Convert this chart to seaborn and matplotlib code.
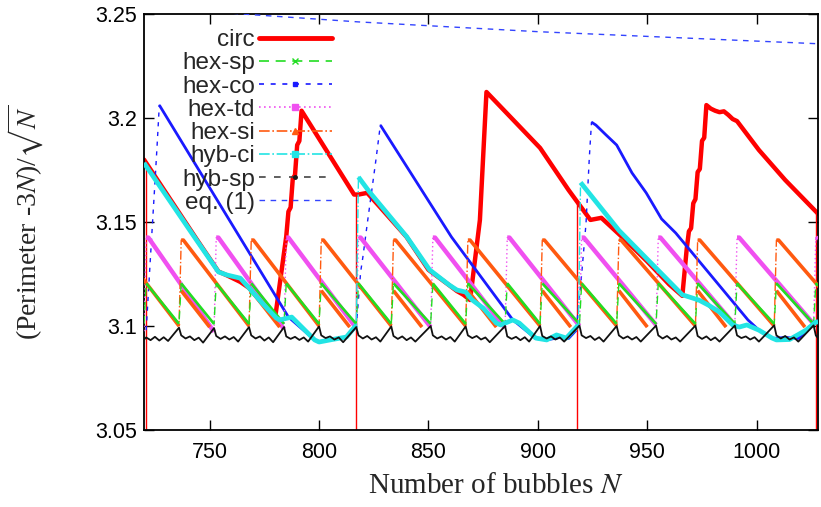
import numpy as np
import pandas as pd
import matplotlib
matplotlib.use("Agg")
import matplotlib.pyplot as plt
from matplotlib.lines import Line2D
from matplotlib.ticker import FuncFormatter
import seaborn as sns

nan = np.nan

# ---- values: vertices (N, value) of every curve ----
circ_N = [720, 744, 754, 758, 764, 768, 774, 780, 785, 786, 787, 788, 789, 790, 791, 792,
          816, 818, 822, 828, 840, 850, 860, 863, 866, 869, 873.5, 876.5,
          901, 914, 924, 929, 940, 950, 960, 966, 968, 969, 970, 971, 972, 973, 974, 975, 976, 977,
          979, 981, 983, 985, 987, 989, 991, 1001, 1013, 1028]
circ_v = [3.180, 3.1418, 3.1262, 3.1243, 3.1212, 3.1183, 3.1110, 3.1045, 3.143, 3.155, 3.157,
          3.171, 3.1725, 3.187, 3.189, 3.2035,
          3.1632, 3.1632, 3.164, 3.157, 3.1428, 3.127, 3.1192, 3.1168, 3.1150, 3.1125, 3.151, 3.2125,
          3.1856, 3.1654, 3.151, 3.152, 3.1413, 3.131, 3.120, 3.1145, 3.137, 3.1455, 3.147, 3.159,
          3.161, 3.174, 3.1755, 3.189, 3.1905, 3.2062,
          3.2045, 3.2035, 3.2028, 3.2032, 3.2015, 3.1995, 3.1985, 3.1846, 3.1702, 3.154]
circ_spikes = [721, 817, 918, 1027]

hexsp_N = [720, 721, 736, 737, 752, 753, 768, 769, 784, 785, 800, 801, 817, 818, 833, 834,
           851, 852, 867, 868, 885, 886, 901, 902, 919, 920, 936, 937, 954, 955, 972, 973,
           990, 991, 1008, 1009, 1026, 1027, 1028]
hexsp_v = [3.101, 3.1205, 3.101, 3.1205, 3.101, 3.1205, 3.101, 3.1205, 3.101, 3.1205,
           3.101, 3.1205, 3.101, 3.1205, 3.101, 3.1205, 3.101, 3.1205, 3.101, 3.1205,
           3.101, 3.1205, 3.101, 3.1205, 3.101, 3.1205, 3.101, 3.1205, 3.101, 3.1205,
           3.101, 3.1205, 3.101, 3.1205, 3.101, 3.1205, 3.101, 3.1205, 3.1194]

hexco_N = [721, 723, 725, 726, 727, 786, 798, 800, 812.5, 817, 819, 820, 822, 826, 828,
           860.5, 888.5, 899, 904, 910, 914, 917.5, 920, 922, 923.5, 924.5, 926.5, 931, 936,
           943, 949.5, 956.5, 963, 996, 1001, 1007, 1013, 1019, 1023, 1027, 1028]
hexco_v = [3.098, 3.134, 3.169, 3.187, 3.2062, 3.1043, 3.0933, 3.0925, 3.0947, 3.0995, 3.126,
           3.133, 3.149, 3.180, 3.1966,
           3.1428, 3.103, 3.094, 3.0933, 3.0945, 3.094, 3.098, 3.125, 3.1495, 3.181, 3.198,
           3.1966, 3.192, 3.187,
           3.1736, 3.164, 3.1515, 3.1447, 3.1029, 3.098, 3.094, 3.0945, 3.094, 3.098, 3.102, 3.1025]

hextd_N = [720, 721, 722, 752, 753, 754, 784, 785, 786, 817, 818, 819, 851, 852, 853,
           885, 886, 887, 919, 920, 921, 954, 955, 956, 990, 991, 992, 1026, 1027, 1028]
hextd_v = [3.0975, 3.1425, 3.1425, 3.0972, 3.1425, 3.1425, 3.0985, 3.1425, 3.1425,
           3.0990, 3.1425, 3.1425, 3.0995, 3.1425, 3.1425, 3.0990, 3.1425, 3.1425,
           3.1000, 3.1425, 3.1425, 3.1005, 3.1425, 3.1425, 3.1005, 3.1425, 3.1425,
           3.1010, 3.1425, 3.1420]

# hex-si: long teeth from 3.141 plus short teeth from 3.117
hexsi_N = [705, 706, 736, 737, 738, 768, 769, 770, 800, 801, 802, 833, 834, 835, 867, 868, 869,
           901, 902, 903, 936, 937, 938, 972, 973, 974, 1008, 1009, 1010, 1044, nan,
           737, 750, nan, 769, 782, nan, 801, 814, nan, 834, 847, nan, 868, 881, nan,
           902, 915, nan, 937, 950, nan, 973, 986, nan, 1009, 1022]
hexsi_v = [3.1413, 3.1413, 3.100, 3.1413, 3.1413, 3.100, 3.1413, 3.1413, 3.100, 3.1413, 3.1413,
           3.100, 3.1413, 3.1413, 3.100, 3.1413, 3.1413, 3.100, 3.1413, 3.1413, 3.100, 3.1413,
           3.1413, 3.100, 3.1413, 3.1413, 3.100, 3.1413, 3.1413, 3.100, nan,
           3.117, 3.0995, nan, 3.117, 3.0995, nan, 3.117, 3.0995, nan, 3.117, 3.0995, nan,
           3.117, 3.0995, nan, 3.117, 3.0995, nan, 3.117, 3.0995, nan, 3.117, 3.0995, nan,
           3.117, 3.0995]

hybci_N = [720, 744, 754, 758, 764, 768, 774, 780.5, 782, 787.5, 798, 800, 806, 812.5, 817,
           818, 823, 840, 850.5, 859.5, 863, 867, 870, 875, 881, 883, 888.5, 891.5, 899, 904,
           908.5, 913, 918.5,
           919.5, 937, 966, 969, 973.5, 978, 983, 989, 992, 995.5, 1001, 1007, 1009, 1015,
           1022.5, 1027, 1028]
hybci_v = [3.1784, 3.1413, 3.126, 3.1245, 3.123, 3.1183, 3.111, 3.1038, 3.1029, 3.1043, 3.0933,
           3.0923, 3.0935, 3.0947, 3.1005,
           3.1716, 3.1645, 3.143, 3.127, 3.1197, 3.1173, 3.1163, 3.1125, 3.1086, 3.1014, 3.1005,
           3.1029, 3.1014, 3.0942, 3.0933, 3.0957, 3.0942, 3.1005,
           3.169, 3.146, 3.115, 3.114, 3.1125, 3.110, 3.1067, 3.1005, 3.0995, 3.1005, 3.098,
           3.0942, 3.0933, 3.0935, 3.098, 3.1019, 3.102]

hybsp_N = [720,
           721, 723, 725, 727, 729, 731, 736,
           737, 739, 741, 743, 745, 747, 752,
           753, 755, 757, 759, 761, 763, 768,
           769, 771, 773, 775, 777, 779, 784,
           785, 787, 789, 791, 793, 795, 800,
           801, 803, 805, 807, 809, 811, 817,
           818, 820, 822, 824, 826, 828, 833,
           834, 836, 838, 840, 842, 844, 851,
           852, 854, 856, 858, 860, 862, 867,
           868, 870, 872, 874, 876, 878, 885,
           886, 888, 890, 892, 894, 896, 901,
           902, 904, 906, 908, 910, 912, 919,
           920, 922, 924, 926, 928, 930, 936,
           937, 939, 941, 943, 945, 947, 954,
           955, 957, 959, 961, 963, 965, 972,
           973, 975, 977, 979, 981, 983, 990,
           991, 993, 995, 997, 999, 1001, 1008,
           1009, 1011, 1013, 1015, 1017, 1019, 1026,
           1027, 1028]
hybsp_v = [3.0935,
           3.0945, 3.0932, 3.0948, 3.0930, 3.0946, 3.0928, 3.0992,
           3.0955, 3.0940, 3.0950, 3.0932, 3.0944, 3.0920, 3.0990,
           3.0952, 3.0938, 3.0950, 3.0935, 3.0947, 3.0925, 3.0995,
           3.0955, 3.0940, 3.0950, 3.0930, 3.0945, 3.0922, 3.0995,
           3.0950, 3.0938, 3.0948, 3.0933, 3.0945, 3.0925, 3.0998,
           3.0955, 3.0942, 3.0950, 3.0935, 3.0945, 3.0922, 3.0995,
           3.0955, 3.0940, 3.0952, 3.0935, 3.0946, 3.0925, 3.0998,
           3.0952, 3.0938, 3.0950, 3.0932, 3.0945, 3.0925, 3.1000,
           3.0955, 3.0940, 3.0950, 3.0935, 3.0947, 3.0925, 3.0998,
           3.0955, 3.0942, 3.0952, 3.0935, 3.0945, 3.0922, 3.1000,
           3.0950, 3.0938, 3.0948, 3.0932, 3.0946, 3.0925, 3.1000,
           3.0952, 3.0940, 3.0950, 3.0935, 3.0945, 3.0925, 3.1002,
           3.0955, 3.0942, 3.0952, 3.0933, 3.0946, 3.0925, 3.1000,
           3.0955, 3.0940, 3.0950, 3.0935, 3.0947, 3.0925, 3.1002,
           3.0955, 3.0940, 3.0952, 3.0935, 3.0945, 3.0925, 3.1002,
           3.0952, 3.0938, 3.0950, 3.0932, 3.0945, 3.0925, 3.1002,
           3.0955, 3.0942, 3.0950, 3.0935, 3.0946, 3.0925, 3.1003,
           3.0955, 3.0940, 3.0952, 3.0935, 3.0945, 3.0925, 3.1003,
           3.0955, 3.0942]

eq1_N = [720, 769, 818, 900, 1028]
eq1_v = [3.2535, 3.2497, 3.2462, 3.2415, 3.2357]

xticks = [750, 800, 850, 900, 950, 1000]
yticks = [3.05, 3.1, 3.15, 3.2, 3.25]

RED, GREEN, BLUE, MAGENTA = "#ff0000", "#22dd22", "#1a1aff", "#f050f0"
ORANGE, CYAN, BLACK, EQBLUE = "#ff5a10", "#22e4e4", "#111111", "#3344ff"


def pieces(N, v, steep=None):
    # cut a vertex list into separate lines: at NaN, and at steep jumps if asked
    out, cur = [], []
    for n, y in zip(N, v):
        if np.isnan(y):
            out.append(cur)
            cur = []
            continue
        if cur and steep is not None and abs(y - cur[-1][1]) > steep * (n - cur[-1][0]):
            out.append(cur)
            cur = []
        cur.append((n, y))
    out.append(cur)
    rows = [(k, n, y) for k, p in enumerate(out) if len(p) > 1 for n, y in p]
    return pd.DataFrame(rows, columns=["seg", "N", "v"])


def draw(ax, N, v, color, ls, lw_thick, z):
    thin = pieces(N, v)
    sns.lineplot(data=thin, x="N", y="v", units="seg", estimator=None, sort=False,
                 color=color, linewidth=1.0, linestyle=ls, ax=ax, zorder=z)
    thick = pieces(N, v, steep=0.005)
    sns.lineplot(data=thick, x="N", y="v", units="seg", estimator=None, sort=False,
                 color=color, linewidth=lw_thick, linestyle="-", ax=ax, zorder=z,
                 solid_capstyle="butt")


sns.set_theme(style="ticks")
plt.rcParams["font.family"] = ["Liberation Sans", "DejaVu Sans"]
plt.rcParams["mathtext.fontset"] = "stix"

fig, ax = plt.subplots(figsize=(8.21, 5.07), dpi=100)
fig.subplots_adjust(left=144 / 821, right=818 / 821, top=1 - 14 / 507, bottom=1 - 430 / 507)

# circ: thick red line, thin spikes going down
sns.lineplot(x=circ_N, y=circ_v, sort=False, estimator=None, color=RED, linewidth=3.2,
             ax=ax, zorder=2)
ax.vlines(circ_spikes, 3.0, np.interp(circ_spikes, circ_N, circ_v), color=RED,
          linewidth=1.0, zorder=2)

draw(ax, hexco_N, hexco_v, BLUE, (0, (3, 4)), 2.0, 4)
draw(ax, hextd_N, hextd_v, MAGENTA, (0, (1, 2)), 3.2, 5)
draw(ax, hexsi_N, hexsi_v, ORANGE, "-.", 2.6, 6)
draw(ax, hexsp_N, hexsp_v, GREEN, (0, (6, 4)), 1.9, 6.5)
draw(ax, hybci_N, hybci_v, CYAN, "-.", 3.4, 7)
sns.lineplot(x=hybsp_N, y=hybsp_v, sort=False, estimator=None, color=BLACK, linewidth=1.3,
             ax=ax, zorder=8)
sns.lineplot(x=eq1_N, y=eq1_v, sort=False, estimator=None, color=EQBLUE, linewidth=1.0,
             linestyle=(0, (4, 4)), ax=ax, zorder=9)

ax.set_xlim(720, 1028)
ax.set_ylim(3.05, 3.25)
ax.set_xticks(xticks)
ax.set_yticks(yticks)
ax.yaxis.set_major_formatter(FuncFormatter(lambda y, _: f"{y:g}"))
ax.tick_params(direction="in", length=7, width=1.0, top=True, right=True,
               labelsize=15.5, colors="black")
ax.tick_params(axis="y", pad=5)
ax.tick_params(axis="x", pad=9)
for s in ax.spines.values():
    s.set_linewidth(1.3)
    s.set_color("black")

ax.set_xlabel(r"Number of bubbles $N$", fontsize=21, family="Liberation Serif")
ax.set_ylabel(r"(Perimeter -3$N$)/$\sqrt{N}$", fontsize=20, family="Liberation Serif")
ax.xaxis.set_label_coords(0.522, -0.103)
ax.yaxis.set_label_coords(-0.146, 0.5)

handles = [
    Line2D([], [], color=RED, lw=3.5),
    Line2D([], [], color=GREEN, lw=1.2, ls=(0, (6, 4)), marker="x", ms=4, mew=1),
    Line2D([], [], color=BLUE, lw=1.2, ls=(0, (3, 4)), marker="s", ms=2.5),
    Line2D([], [], color=MAGENTA, lw=1.2, ls=(0, (1, 2)), marker="s", ms=4),
    Line2D([], [], color=ORANGE, lw=1.2, ls="-.", marker="^", ms=4),
    Line2D([], [], color=CYAN, lw=1.2, ls="-.", marker="s", ms=4),
    Line2D([], [], color="#444444", lw=1.2, ls=(0, (4, 5)), marker="o", ms=2.5,
           mfc="k", mec="k"),
    Line2D([], [], color=EQBLUE, lw=1.0, ls=(0, (4, 4))),
]
labels = ["circ", "hex-sp", "hex-co", "hex-td", "hex-si", "hyb-ci", "hyb-sp", "eq. (1)"]
ax.legend(handles, labels, loc="upper right", bbox_to_anchor=(344 / 821, 1 - 17 / 507),
          bbox_transform=fig.transFigure, frameon=False, markerfirst=False, numpoints=1,
          fontsize=17.5, handlelength=3.0, handletextpad=0.16, labelspacing=0.05, borderpad=0)

fig.savefig("out.png", dpi=100)
